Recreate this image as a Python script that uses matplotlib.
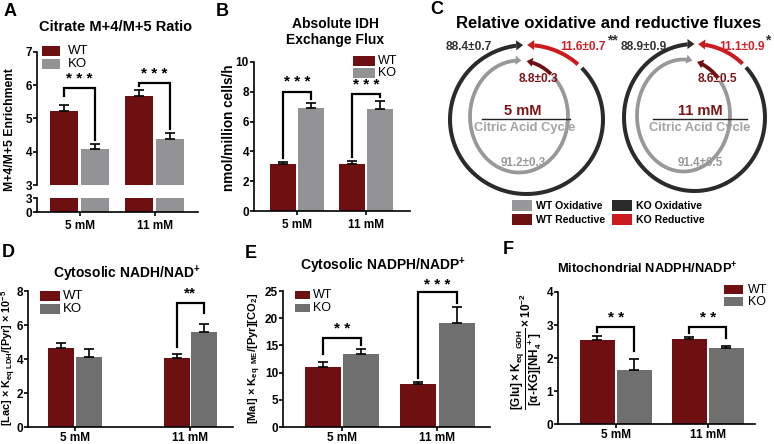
import numpy as np
import matplotlib
matplotlib.use('Agg')
import matplotlib.pyplot as plt
from matplotlib.patches import Rectangle, Polygon

W, H = 774, 444

# ---- data ----
groups = ['5 mM', '11 mM']

# A: citrate M+4/M+5 ratio
cit_wt = [5.22, 5.67]
cit_wt_err = [0.19, 0.17]
cit_ko = [4.09, 4.39]
cit_ko_err = [0.13, 0.17]

# B: absolute IDH exchange flux
idh_wt = [3.13, 3.13]
idh_wt_err = [0.14, 0.20]
idh_ko = [6.90, 6.83]
idh_ko_err = [0.33, 0.55]

# C: relative fluxes (%)
ko_red = [11.6, 11.1]
ko_red_err = [0.7, 0.9]
ko_ox = [88.4, 88.9]
ko_ox_err = [0.7, 0.9]
wt_red = [8.8, 8.6]
wt_red_err = [0.3, 0.5]
wt_ox = [91.2, 91.4]
wt_ox_err = [0.3, 0.5]
c_sig = ['**', '*']

# D: cytosolic NADH/NAD+
nadh_wt = [4.67, 4.06]
nadh_wt_err = [0.30, 0.23]
nadh_ko = [4.14, 5.60]
nadh_ko_err = [0.45, 0.47]

# E: cytosolic NADPH/NADP+
nadph_wt = [11.06, 7.86]
nadph_wt_err = [0.85, 0.45]
nadph_ko = [13.5, 19.2]
nadph_ko_err = [0.80, 2.90]

# F: mitochondrial NADPH/NADP+
mito_wt = [2.55, 2.58]
mito_wt_err = [0.12, 0.07]
mito_ko = [1.65, 2.29]
mito_ko_err = [0.33, 0.08]

WT_C = '#6e0f12'
KO_LIGHT = '#939396'
KO_DARK = '#6f6f70'

plt.rcParams['font.family'] = ['Liberation Sans', 'DejaVu Sans']
plt.rcParams['mathtext.fontset'] = 'custom'
plt.rcParams['mathtext.rm'] = 'Liberation Sans:bold'
plt.rcParams['mathtext.bf'] = 'Liberation Sans:bold'
plt.rcParams['mathtext.it'] = 'Liberation Sans:bold'
plt.rcParams['mathtext.default'] = 'bf'

fig = plt.figure(figsize=(W / 100, H / 100), dpi=100)

def px_axes(l, t, r, b):
    return fig.add_axes([l / W, 1 - b / H, (r - l) / W, (b - t) / H])

def style(ax, bottom=True):
    for s in ['top', 'right']:
        ax.spines[s].set_visible(False)
    ax.spines['left'].set_linewidth(1.2)
    ax.spines['bottom'].set_linewidth(1.2)
    if not bottom:
        ax.spines['bottom'].set_visible(False)
        ax.set_xticks([])
    ax.tick_params(axis='both', direction='out', length=2.8, width=1.2,
                   labelsize=8.5, pad=0.8)
    for lab in ax.get_yticklabels() + ax.get_xticklabels():
        lab.set_fontweight('bold')

def bars(ax, wt, wte, ko, koe, ko_color, off, width):
    x = np.arange(len(groups))
    ax.bar(x - off, wt, width, color=WT_C, zorder=2)
    ax.bar(x + off, ko, width, color=ko_color, zorder=2)
    kw = dict(fmt='none', ecolor='black', elinewidth=1.2, capsize=3.5,
              capthick=1.2, zorder=3)
    ax.errorbar(x - off, wt, yerr=[np.zeros(len(wt)), wte], **kw)
    ax.errorbar(x + off, ko, yerr=[np.zeros(len(ko)), koe], **kw)

def bracket(ax, i, off, y, stars, wt_top, ko_top, pad_px=4, star_px=9, fs=11):
    y0, y1 = ax.get_ylim()
    hpx = ax.get_position().height * H
    u = (y1 - y0) / hpx
    ax.plot([i - off, i - off, i + off, i + off],
            [wt_top + pad_px * u, y, y, ko_top + pad_px * u],
            color='black', lw=1.6, clip_on=False, zorder=4,
            solid_joinstyle='miter')
    ax.text(i, y + star_px * u, stars, ha='center', va='center',
            fontsize=fs, fontweight='bold', clip_on=False)

def tops(v, e):
    return [a + b for a, b in zip(v, e)]

# overlay for free text / legends / circle diagram
ov = fig.add_axes([0, 0, 1, 1], zorder=10)
ov.set_xlim(0, W)
ov.set_ylim(H, 0)
ov.axis('off')
ov.patch.set_visible(False)

def legend_px(x, y, labels, colors, bw, bh, pitch, fs, tx, bold=False):
    for k, (lab, c) in enumerate(zip(labels, colors)):
        ov.add_patch(Rectangle((x, y + k * pitch), bw, bh, color=c, lw=0))
        ov.text(x + tx, y + k * pitch + bh / 2, lab, va='center', ha='left',
                fontsize=fs, fontweight='bold' if bold else 'normal')

def letter(x, y, s):
    ov.text(x, y, s, fontsize=13, fontweight='bold', ha='center', va='center')

# ---------------- Panel A (broken axis) ----------------
offA, wA = 0.207, 0.37
axA = px_axes(37, 51.7, 198, 185)
bars(axA, cit_wt, cit_wt_err, cit_ko, cit_ko_err, KO_LIGHT, offA, wA)
axA.set_ylim(3, 7)
axA.set_xlim(-0.567, 1.58)
axA.set_yticks([3, 4, 5, 6, 7])
style(axA, bottom=False)
axA2 = px_axes(37, 198, 198, 212)
bars(axA2, cit_wt, cit_wt_err, cit_ko, cit_ko_err, KO_LIGHT, offA, wA)
axA2.set_ylim(0, 3)
axA2.set_xlim(-0.567, 1.58)
axA2.set_yticks([0, 3])
axA2.set_xticks(range(len(groups)))
axA2.set_xticklabels(groups)
style(axA2)
axA2.tick_params(axis='x', pad=3)
bracket(axA, 0, offA, 5.9, '* * *', tops(cit_wt, cit_wt_err)[0] + 0.15,
        tops(cit_ko, cit_ko_err)[0], star_px=9)
bracket(axA, 1, offA, 6.05, '* * *', tops(cit_wt, cit_wt_err)[1],
        tops(cit_ko, cit_ko_err)[1], star_px=9)
letter(10, 12, 'A')
ov.text(116, 27, 'Citrate M+4/M+5 Ratio', fontsize=10.5, fontweight='bold',
        ha='center', va='center')
ov.text(10, 130, 'M+4/M+5 Enrichment', rotation=90, fontsize=8.8,
        fontweight='bold', ha='center', va='center')
legend_px(42, 46, ['WT', 'KO'], [WT_C, KO_LIGHT], 18, 10, 13, 9.5, 26)

# ---------------- Panel B ----------------
offB, wB = 0.2, 0.377
axB = px_axes(254, 62, 410, 211)
bars(axB, idh_wt, idh_wt_err, idh_ko, idh_ko_err, KO_LIGHT, offB, wB)
axB.set_ylim(0, 10)
axB.set_xlim(-0.623, 1.64)
axB.set_yticks([0, 2, 4, 6, 8, 10])
axB.set_xticks(range(len(groups)))
axB.set_xticklabels(groups)
style(axB)
axB.tick_params(axis='x', pad=3)
bracket(axB, 0, offB, 8.0, '* * *', tops(idh_wt, idh_wt_err)[0],
        tops(idh_ko, idh_ko_err)[0], star_px=10)
bracket(axB, 1, offB, 7.85, '* * *', tops(idh_wt, idh_wt_err)[1],
        tops(idh_ko, idh_ko_err)[1], star_px=9)
letter(222, 11, 'B')
ov.text(335, 32, 'Absolute IDH\nExchange Flux', fontsize=10, fontweight='bold',
        ha='center', va='center', linespacing=1.15)
ov.text(229, 128, 'nmol/million cells/h', rotation=90, fontsize=9.8,
        fontweight='bold', ha='center', va='center')
legend_px(353, 56, ['WT', 'KO'], [WT_C, KO_LIGHT], 22, 10, 12, 9, 25)

# ---------------- Panel C (circle diagram) ----------------
def arc(cx, cy, rx, ry, a0, a1, color, lw=2.9, hl=7, hw=10):
    sgn = np.sign(a1 - a0)
    tip = np.array([cx + rx * np.sin(np.radians(a1)),
                    cy - ry * np.cos(np.radians(a1))])
    d = np.array([rx * np.cos(np.radians(a1)), ry * np.sin(np.radians(a1))]) * sgn
    d = d / np.hypot(*d)
    base = tip - hl * d
    n = np.array([-d[1], d[0]])
    a_end = a1 - sgn * np.degrees(hl / ((rx + ry) / 2))
    t = np.radians(np.linspace(a0, a_end, 300))
    ov.plot(cx + rx * np.sin(t), cy - ry * np.cos(t), color=color, lw=lw,
            solid_capstyle='butt')
    ov.add_patch(Polygon([tip, base + hw / 2 * n, base - hw / 2 * n],
                         closed=True, color=color, lw=0))

C_WT_OX = '#98989b'
C_WT_RED = '#6e0f12'
C_KO_OX = '#2b2b2b'
C_KO_RED = '#cc1b1f'

# geometry of the two diagrams: (cx, cy, rx, ry, red tip angle) outer / inner
circles = [
    dict(o=(526.5, 119.5, 76.5, 74.5, 0.5), i=(519, 116.5, 49, 56, 9.0)),
    dict(o=(694.5, 117.5, 70.5, 73.5, 3.0), i=(683.5, 115.5, 46.5, 56, 17.0)),
]
for k, c in enumerate(circles):
    cx, cy, rx, ry, rt = c['o']
    red_deg = 360 * ko_red[k] / 100
    arc(cx, cy, rx, ry, rt + red_deg, rt, C_KO_RED)
    arc(cx, cy, rx, ry, rt + red_deg + 4, rt + 360 - 3, C_KO_OX)
    icx, icy, irx, iry, irt = c['i']
    red_deg = 360 * wt_red[k] / 100
    arc(icx, icy, irx, iry, irt + red_deg, irt, C_WT_RED, lw=2.7, hl=6, hw=9)
    arc(icx, icy, irx, iry, irt + red_deg + 4, irt + 360 - 6, C_WT_OX,
        lw=2.7, hl=6, hw=9)

lab_pos = [dict(ko_ox=(469, 47), ko_red=(583, 47), star=(612, 40), wt_red=(538, 79),
                conc=(523, 111), line=(482, 570), cac=(525, 128), wt_ox=(523, 163)),
           dict(ko_ox=(644, 47), ko_red=(742, 47), star=(768, 40), wt_red=(717, 79),
                conc=(700, 111), line=(653, 747), cac=(700, 128), wt_ox=(700, 163))]
for k, p in enumerate(lab_pos):
    ov.text(*p['ko_ox'], f'{ko_ox[k]:.1f}±{ko_ox_err[k]:.1f}', color='#333333',
            fontsize=8.6, fontweight='bold', ha='center', va='center')
    ov.text(*p['ko_red'], f'{ko_red[k]:.1f}±{ko_red_err[k]:.1f}', color='#d42027',
            fontsize=8.6, fontweight='bold', ha='center', va='center')
    ov.text(*p['star'], c_sig[k], color='#333333', fontsize=10,
            fontweight='bold', ha='center', va='center')
    ov.text(*p['wt_red'], f'{wt_red[k]:.1f}±{wt_red_err[k]:.1f}', color='#7b1518',
            fontsize=8.6, fontweight='bold', ha='center', va='center')
    ov.text(*p['conc'], groups[k], color='#7b1518', fontsize=10.5,
            fontweight='bold', ha='center', va='center')
    ov.plot(p['line'], [119, 119], color='#222222', lw=1)
    ov.text(*p['cac'], 'Citric Acid Cycle', color='#a3a3a5', fontsize=9.3,
            fontweight='bold', ha='center', va='center')
    ov.text(*p['wt_ox'], f'{wt_ox[k]:.1f}±{wt_ox_err[k]:.1f}', color='#9a9a9c',
            fontsize=8.4, fontweight='bold', ha='center', va='center')

letter(437, 10, 'C')
ov.text(609, 23, 'Relative oxidative and reductive fluxes', fontsize=12,
        fontweight='bold', ha='center', va='center')
legend_px(512, 200, ['WT Oxidative', 'WT Reductive'], [C_WT_OX, C_WT_RED],
          20, 11, 14, 7.6, 24, bold=True)
legend_px(612, 200, ['KO Oxidative', 'KO Reductive'], [C_KO_OX, C_KO_RED],
          20, 11, 14, 7.6, 24, bold=True)

# ---------------- Panel D ----------------
offD, wD = 0.12, 0.226
axD = px_axes(28, 291, 233, 427)
bars(axD, nadh_wt, nadh_wt_err, nadh_ko, nadh_ko_err, KO_DARK, offD, wD)
axD.set_ylim(0, 8)
axD.set_xlim(-0.41, 1.37)
axD.set_yticks([0, 2, 4, 6, 8])
axD.set_xticks(range(len(groups)))
axD.set_xticklabels(groups)
style(axD)
bracket(axD, 1, offD, 7.3, '**', tops(nadh_wt, nadh_wt_err)[1] + 0.2,
        tops(nadh_ko, nadh_ko_err)[1] + 0.4, star_px=9)
letter(8, 252, 'D')
ov.text(127, 274, 'Cytosolic NADH/NAD$^{+}$', fontsize=10, fontweight='bold',
        ha='center', va='center')
ov.text(8.5, 358, r'[Lac] × K$_{eq\ LDH}$/[Pyr] × 10$^{-5}$', rotation=90,
        fontsize=7.8, fontweight='bold', ha='center', va='center')
legend_px(40, 291, ['WT', 'KO'], [WT_C, KO_DARK], 20, 10, 13, 9.5, 23)

# ---------------- Panel E ----------------
offE, wE = 0.2, 0.377
axE = px_axes(283, 291, 490, 427)
bars(axE, nadph_wt, nadph_wt_err, nadph_ko, nadph_ko_err, KO_DARK, offE, wE)
axE.set_ylim(0, 25)
axE.set_xlim(-0.618, 1.55)
axE.set_yticks([0, 5, 10, 15, 20, 25])
axE.set_xticks(range(len(groups)))
axE.set_xticklabels(groups)
style(axE)
bracket(axE, 0, offE, 16.3, '* *', tops(nadph_wt, nadph_wt_err)[0] + 0.8,
        tops(nadph_ko, nadph_ko_err)[0], star_px=9)
bracket(axE, 1, offE, 24.75, '* * *', tops(nadph_wt, nadph_wt_err)[1],
        tops(nadph_ko, nadph_ko_err)[1], star_px=7.5)
letter(251, 253, 'E')
ov.text(383, 266, 'Cytosolic NADPH/NADP$^{+}$', fontsize=10, fontweight='bold',
        ha='center', va='center')
ov.text(255, 358, r'[Mal] × K$_{eq\ \ ME}$/[Pyr][CO$_2$]', rotation=90,
        fontsize=8, fontweight='bold', ha='center', va='center')
legend_px(295, 291, ['WT', 'KO'], [WT_C, KO_DARK], 15, 8, 12.5, 9, 18)

# ---------------- Panel F ----------------
offF, wF = 0.2, 0.38
axF = px_axes(558, 292, 755, 424)
bars(axF, mito_wt, mito_wt_err, mito_ko, mito_ko_err, KO_DARK, offF, wF)
axF.set_ylim(0, 4)
axF.set_xlim(-0.625, 1.51)
axF.set_yticks([0, 1, 2, 3, 4])
axF.set_xticks(range(len(groups)))
axF.set_xticklabels(groups)
style(axF)
bracket(axF, 0, offF, 2.94, '* *', tops(mito_wt, mito_wt_err)[0],
        tops(mito_ko, mito_ko_err)[0] + 0.1, star_px=9)
bracket(axF, 1, offF, 2.94, '* *', tops(mito_wt, mito_wt_err)[1],
        tops(mito_ko, mito_ko_err)[1] + 0.1, star_px=9)
letter(508, 249, 'F')
ov.text(647, 269, 'Mitochondrial NADPH/NADP$^{+}$', fontsize=9.3, fontweight='bold',
        ha='center', va='center')
ov.text(527, 352, r'$\dfrac{[Glu]\times K_{eq\ \ GDH}}{[\alpha‐KG][NH_4^{\ +}]}\times 10^{-2}$',
        rotation=90, fontsize=8.5, ha='center', va='center')
legend_px(724, 285, ['WT', 'KO'], [WT_C, KO_DARK], 19, 9, 12, 9, 24)

fig.savefig('out.png', dpi=100)
